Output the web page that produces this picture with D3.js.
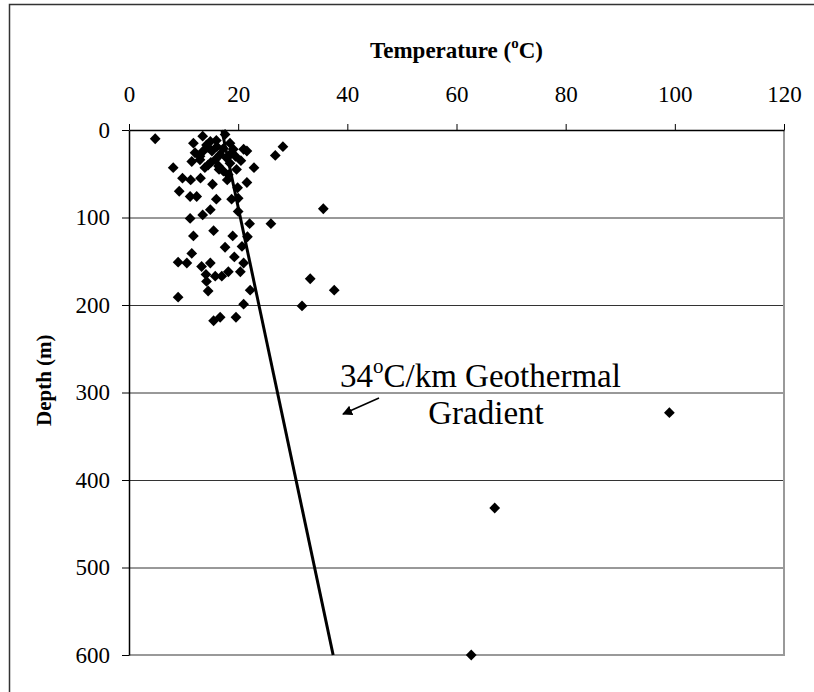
<!DOCTYPE html>
<html>
<head>
<meta charset="utf-8">
<script src="https://cdn.jsdelivr.net/npm/d3@7.9.0/dist/d3.min.js"></script>
<style>
  body { margin: 0; background: #fff; }
  svg { display: block; font-family: "Liberation Serif", "Times New Roman", serif; }
</style>
</head>
<body>
<svg id="chart" width="814" height="692"></svg>
<script>
// temperature (C) and depth (m) for each well reading
const temps = [4.8, 13.5, 11.8, 14.9, 17.6, 18.5, 21.0, 21.6, 28.2, 26.8,
  12.1, 13.6, 15.2, 16.7, 17.9, 11.5, 8.1, 13.9, 16.4, 19.7,
  22.9, 9.8, 11.3, 13.1, 15.3, 18.0, 21.6, 9.2, 11.2, 12.4,
  16.0, 18.8, 19.9, 20.0, 14.9, 13.5, 20.0, 11.2, 22.1, 26.0,
  15.5, 11.8, 19.0, 21.7, 17.6, 20.7, 11.5, 19.3, 9.0, 10.6,
  13.3, 14.9, 21.0, 14.1, 15.8, 17.0, 18.2, 20.4, 14.2, 14.5,
  22.2, 9.0, 21.0, 15.5, 16.7, 19.6,
  14.2, 16.1, 17.3, 19.1, 15.8, 18.5, 17.3, 18.2, 13.0, 14.5,
  14.5, 16.0, 18.5, 19.5, 13.0, 16.5, 20.5, 15.0,
  35.6, 33.2, 37.6, 31.7, 99, 67, 62.7];
const depths = [10, 7, 15, 13, 5, 15, 22, 24, 19, 29,
  26, 24, 24, 28, 32, 36, 43, 43, 41, 45,
  43, 55, 57, 55, 62, 57, 60, 70, 76, 76,
  79, 79, 66, 78, 91, 97, 93, 101, 107, 107,
  115, 121, 121, 122, 134, 133, 141, 145, 151, 152,
  156, 152, 152, 165, 167, 167, 162, 162, 173, 184,
  183, 191, 199, 218, 214, 214,
  17, 19, 21, 22, 34, 38, 47, 51, 34, 40,
  20, 12, 28, 30, 30, 45, 35, 37,
  90, 170, 183, 201, 323, 432, 600];

// 34 C/km geothermal gradient
const gradDepth = [0, 600];
const gradTemp = [17, 37.4];

const xTicks = [0, 20, 40, 60, 80, 100, 120];
const yTicks = [0, 100, 200, 300, 400, 500, 600];

const svg = d3.select('#chart');

// outer frame (only left/top edges fall inside the picture)
svg.append('path')
  .attr('d', 'M9.5,692 L9.5,4.5 L814,4.5')
  .attr('fill', 'none')
  .attr('stroke', '#333')
  .attr('stroke-width', 1.5);

const x = d3.scaleLinear().domain([0, 120]).range([129, 784]);
const y = d3.scaleLinear().domain([0, 600]).range([130, 655]);

// gridlines
svg.append('g')
  .selectAll('line')
  .data(yTicks.filter(d => d > 0 && d < 600))
  .join('line')
  .attr('x1', x(0)).attr('x2', x(120))
  .attr('y1', d => y(d) + 0.5).attr('y2', d => y(d) + 0.5)
  .attr('stroke', '#333')
  .attr('stroke-width', 1);

// right and bottom edges of the plot area
svg.append('path')
  .attr('d', `M${x(120)},${y(0)} L${x(120)},${y(600)} L${x(0)},${y(600)}`)
  .attr('fill', 'none')
  .attr('stroke', '#999')
  .attr('stroke-width', 2);

// top axis
const xAxis = svg.append('g')
  .attr('transform', `translate(0,${y(0)})`)
  .call(d3.axisTop(x).tickValues(xTicks).tickSize(6).tickSizeOuter(0).tickPadding(22));
xAxis.select('.domain').attr('stroke', '#000').attr('stroke-width', 1.5);
xAxis.selectAll('.tick line').attr('stroke', '#000');
xAxis.selectAll('text')
  .attr('font-family', '"Liberation Serif", serif')
  .attr('font-size', 23)
  .attr('fill', '#000');

// left axis
const yAxis = svg.append('g')
  .attr('transform', `translate(${x(0)},0)`)
  .call(d3.axisLeft(y).tickValues(yTicks).tickSize(7).tickSizeOuter(0).tickPadding(12));
yAxis.select('.domain').attr('stroke', '#000').attr('stroke-width', 1.5);
yAxis.selectAll('.tick line').attr('stroke', '#000');
yAxis.selectAll('text')
  .attr('font-family', '"Liberation Serif", serif')
  .attr('font-size', 23)
  .attr('fill', '#000');

// axis titles
const xTitle = svg.append('text')
  .attr('x', (x(0) + x(120)) / 2)
  .attr('y', 58)
  .attr('text-anchor', 'middle')
  .attr('font-weight', 'bold')
  .attr('font-size', 23);
xTitle.append('tspan').text('Temperature (');
xTitle.append('tspan').attr('font-size', 15).attr('dy', -10).text('o');
xTitle.append('tspan').attr('dy', 10).text('C)');

svg.append('text')
  .attr('transform', `translate(51,${y(286)}) rotate(-90)`)
  .attr('text-anchor', 'middle')
  .attr('font-weight', 'bold')
  .attr('font-size', 21)
  .text('Depth (m)');

// gradient line
const grad = gradDepth.map((d, i) => [gradTemp[i], d]);
svg.append('path')
  .datum(grad)
  .attr('d', d3.line().x(d => x(d[0])).y(d => y(d[1])))
  .attr('fill', 'none')
  .attr('stroke', '#000')
  .attr('stroke-width', 3);

// points
const pts = temps.map((t, i) => ({ t, d: depths[i] }));
svg.append('g')
  .selectAll('path')
  .data(pts)
  .join('path')
  .attr('transform', d => `translate(${x(d.t)},${y(d.d)})`)
  .attr('d', d3.symbol(d3.symbolDiamond2, 74))
  .attr('fill', '#000');

// annotation
const note = svg.append('text')
  .attr('x', 340)
  .attr('y', 387)
  .attr('font-size', 33);
note.append('tspan').text('34');
note.append('tspan').attr('font-size', 21).attr('dy', -14).text('o');
note.append('tspan').attr('dy', 14).text('C/km Geothermal');

svg.append('text')
  .attr('x', 486)
  .attr('y', 424)
  .attr('text-anchor', 'middle')
  .attr('font-size', 33)
  .text('Gradient');

svg.append('defs').append('marker')
  .attr('id', 'head')
  .attr('viewBox', '0 0 10 10')
  .attr('refX', 9).attr('refY', 5)
  .attr('markerWidth', 10).attr('markerHeight', 10)
  .attr('markerUnits', 'userSpaceOnUse')
  .attr('orient', 'auto')
  .append('path')
  .attr('d', 'M0,0 L10,5 L0,10 z')
  .attr('fill', '#000');

svg.append('line')
  .attr('x1', 379).attr('y1', 398)
  .attr('x2', 343).attr('y2', 414)
  .attr('stroke', '#000')
  .attr('stroke-width', 1.5)
  .attr('marker-end', 'url(#head)');
</script>
</body>
</html>
